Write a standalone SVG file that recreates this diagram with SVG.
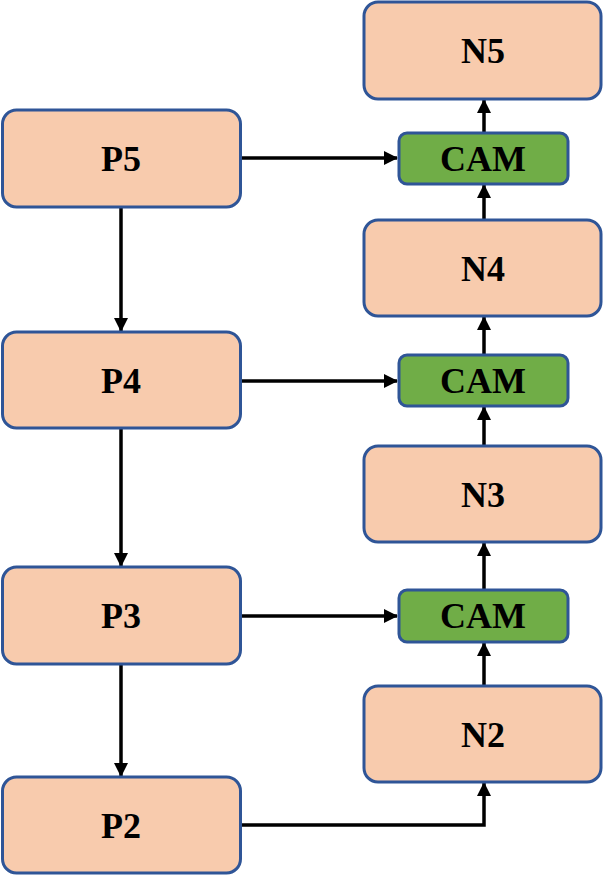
<svg xmlns="http://www.w3.org/2000/svg" width="604" height="876" viewBox="0 0 604 876">
<style>
.n rect{fill:#F8CBAD;stroke:#2F5597;stroke-width:3}
.c rect{fill:#70AD47;stroke:#2F5597;stroke-width:3}
text{font-family:"Liberation Serif","Times New Roman",serif;font-weight:bold;font-size:36px;text-anchor:middle;fill:#000}
.e path{fill:none;stroke:#000;stroke-width:3.5}
</style>
<defs>
<marker id="a" markerUnits="userSpaceOnUse" markerWidth="14" markerHeight="14" refX="13" refY="7" orient="auto" viewBox="0 0 14 14">
<path d="M0,0 L14,7 L0,14 Z" fill="#000"/>
</marker>
</defs>
<g class="e">
<path d="M241,158 H397" marker-end="url(#a)"/>
<path d="M241,381 H397" marker-end="url(#a)"/>
<path d="M241,616 H397" marker-end="url(#a)"/>
<path d="M121,208 V331" marker-end="url(#a)"/>
<path d="M121,429 V566" marker-end="url(#a)"/>
<path d="M121,665 V776" marker-end="url(#a)"/>
<path d="M241,825 H484 V783" marker-end="url(#a)"/>
<path d="M484,686 V643" marker-end="url(#a)"/>
<path d="M484,589 V543" marker-end="url(#a)"/>
<path d="M484,446 V407" marker-end="url(#a)"/>
<path d="M484,354 V317" marker-end="url(#a)"/>
<path d="M484,220 V185" marker-end="url(#a)"/>
<path d="M484,133 V100" marker-end="url(#a)"/>
</g>
<g id="P5" class="n"><rect x="2.5" y="110" width="238" height="97" rx="14"/><text x="121" y="171">P5</text></g>
<g id="P4" class="n"><rect x="2.5" y="332" width="238" height="96" rx="14"/><text x="121" y="393">P4</text></g>
<g id="P3" class="n"><rect x="2.5" y="567" width="238" height="97" rx="14"/><text x="121" y="628">P3</text></g>
<g id="P2" class="n"><rect x="2.5" y="777" width="238" height="96" rx="14"/><text x="121" y="838">P2</text></g>
<g id="N5" class="n"><rect x="364" y="2" width="237" height="97" rx="14"/><text x="483" y="63">N5</text></g>
<g id="N4" class="n"><rect x="364" y="220" width="237" height="96" rx="14"/><text x="483" y="281">N4</text></g>
<g id="N3" class="n"><rect x="364" y="446" width="237" height="96" rx="14"/><text x="483" y="507">N3</text></g>
<g id="N2" class="n"><rect x="364" y="686" width="237" height="96" rx="14"/><text x="483" y="747">N2</text></g>
<g id="CAM1" class="c"><rect x="399" y="133" width="169" height="51" rx="8"/><text x="483" y="171">CAM</text></g>
<g id="CAM2" class="c"><rect x="399" y="355" width="169" height="51" rx="8"/><text x="483" y="393">CAM</text></g>
<g id="CAM3" class="c"><rect x="399" y="590" width="169" height="52" rx="8"/><text x="483" y="628">CAM</text></g>
</svg>
